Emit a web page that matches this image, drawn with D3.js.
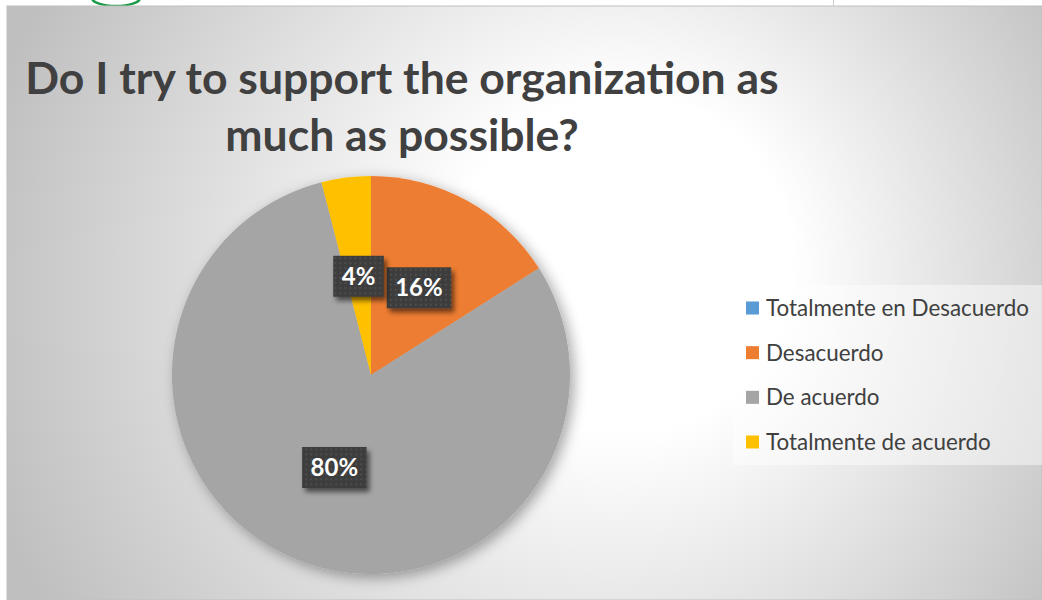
<!DOCTYPE html>
<html>
<head>
<meta charset="utf-8">
<script src="https://cdn.jsdelivr.net/npm/d3@7"></script>
<style>
  html, body { margin: 0; padding: 0; background: #ffffff; }
  svg { display: block; }
</style>
</head>
<body>
<svg id="chart" width="1042" height="600"></svg>
<script>
// ---- data ----
const titleLines = ["Do I try to support the organization as", "much as possible?"];
const categories = ["Totalmente en Desacuerdo", "Desacuerdo", "De acuerdo", "Totalmente de acuerdo"];
const values = [0, 16, 80, 4];
const colors = ["#5B9BD5", "#ED7D31", "#A5A5A5", "#FFC000"];

const W = 1042, H = 600;
const svg = d3.select("#chart");
const defs = svg.append("defs");

// background gradient
const bg = defs.append("radialGradient").attr("id", "bgGrad")
  .attr("gradientUnits", "userSpaceOnUse")
  .attr("cx", 560).attr("cy", 300).attr("r", 600)
  .attr("fx", 650).attr("fy", 250);
bg.append("stop").attr("offset", 0).attr("stop-color", "#ffffff");
bg.append("stop").attr("offset", 0.28).attr("stop-color", "#ffffff");
bg.append("stop").attr("offset", 1).attr("stop-color", "#bfbfbf");

// pie shadow
const ps = defs.append("filter").attr("id", "pieShadow")
  .attr("x", "-20%").attr("y", "-20%").attr("width", "140%").attr("height", "140%");
ps.append("feDropShadow").attr("dx", 4).attr("dy", 4).attr("stdDeviation", 7)
  .attr("flood-color", "#000").attr("flood-opacity", 0.35);

// label shadow
const ls = defs.append("filter").attr("id", "lblShadow")
  .attr("x", "-30%").attr("y", "-30%").attr("width", "160%").attr("height", "160%");
ls.append("feDropShadow").attr("dx", 3).attr("dy", 4).attr("stdDeviation", 2.5)
  .attr("flood-color", "#000").attr("flood-opacity", 0.55);

// dotted pattern for label boxes
const pat = defs.append("pattern").attr("id", "dots")
  .attr("patternUnits", "userSpaceOnUse").attr("width", 5).attr("height", 5);
pat.append("rect").attr("width", 5).attr("height", 5).attr("fill", "#3d3d3d");
pat.append("rect").attr("x", 1).attr("y", 1).attr("width", 1.6).attr("height", 1.6).attr("fill", "#555555");

// top strip decorations (page fragments)
svg.append("rect").attr("x", 0).attr("y", 0).attr("width", W).attr("height", H).attr("fill", "#ffffff");
svg.append("path").attr("d", "M 92 -2 A 24 8 0 0 0 140 -2").attr("fill", "none")
  .attr("stroke", "#1e9a4b").attr("stroke-width", 2.5);
svg.append("line").attr("x1", 833.5).attr("x2", 833.5).attr("y1", 0).attr("y2", 6)
  .attr("stroke", "#d0d0d0").attr("stroke-width", 1);

// chart area
svg.append("rect").attr("x", 7).attr("y", 6).attr("width", W - 7).attr("height", H - 6)
  .attr("fill", "url(#bgGrad)").attr("stroke", "#c0c0c0").attr("stroke-width", 1);

// title
const title = svg.append("text")
  .attr("x", 403).attr("y", 94)
  .attr("text-anchor", "middle")
  .attr("font-family", "Lato, 'Open Sans', sans-serif")
  .attr("font-weight", "bold").attr("font-size", 44.5)
  .attr("fill", "#404040");
titleLines.forEach((t, i) => {
  title.append("tspan").attr("x", 402).attr("dy", i === 0 ? 0 : 57).text(t);
});

// pie
const cx = 371, cy = 375, R = 199;
const pie = d3.pie().sort(null).value(d => d.value).startAngle(0).endAngle(2 * Math.PI);
const data = categories.map((c, i) => ({ cat: c, value: values[i], color: colors[i] }));
const arcs = pie(data);
const arc = d3.arc().innerRadius(0).outerRadius(R);
const g = svg.append("g").attr("transform", `translate(${cx},${cy})`);
g.append("g").attr("filter", "url(#pieShadow)")
  .selectAll("path").data(arcs.filter(d => d.value > 0)).join("path")
  .attr("d", arc).attr("fill", d => d.data.color);

// labels
const total = d3.sum(values);
const lab = g.selectAll("g.lbl").data(arcs.filter(d => d.value > 0)).join("g")
  .attr("class", "lbl")
  .attr("transform", d => `translate(${arc.centroid(d)})`);
lab.each(function (d) {
  const sel = d3.select(this);
  const txt = sel.append("text")
    .attr("text-anchor", "middle").attr("dy", "0.36em")
    .attr("font-family", "Lato, 'Open Sans', sans-serif")
    .attr("font-weight", "bold").attr("font-size", 24)
    .attr("fill", "#ffffff")
    .text(d3.format(".0%")(d.value / total));
  const bw = txt.node().getComputedTextLength() + 17;
  sel.insert("rect", "text")
    .attr("x", -bw / 2).attr("y", -20.5).attr("width", bw).attr("height", 41)
    .attr("fill", "url(#dots)").attr("filter", "url(#lblShadow)");
});

// legend
const lg = svg.append("g");
lg.append("rect").attr("x", 733).attr("y", 285).attr("width", W - 733).attr("height", 180)
  .attr("fill", "#ffffff").attr("fill-opacity", 0.45);
const ly = d3.scalePoint().domain(categories).range([308, 442]);
const items = lg.selectAll("g.item").data(data).join("g")
  .attr("class", "item")
  .attr("transform", d => `translate(746,${ly(d.cat)})`);
items.append("rect").attr("x", 0).attr("y", -6.5).attr("width", 13).attr("height", 13)
  .attr("fill", d => d.color);
items.append("text").attr("x", 20).attr("y", 8)
  .attr("font-family", "Lato, 'Open Sans', sans-serif")
  .attr("font-size", 22.4).attr("fill", "#404040")
  .text(d => d.cat);
</script>
</body>
</html>
